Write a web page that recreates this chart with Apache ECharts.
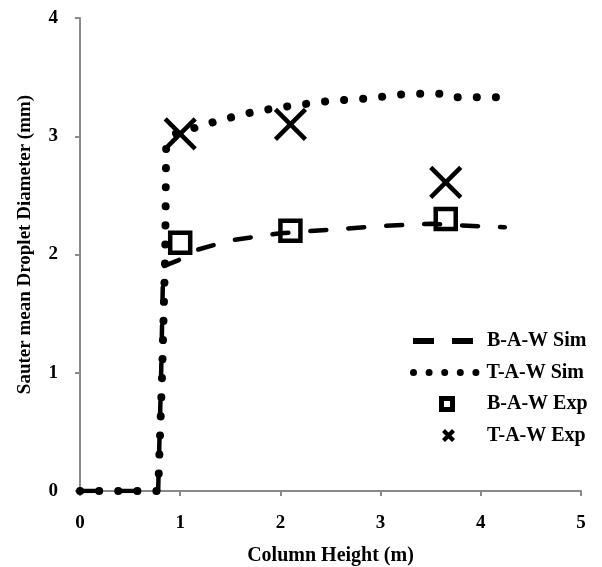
<!DOCTYPE html>
<html>
<head>
<meta charset="utf-8">
<script src="https://cdn.jsdelivr.net/npm/echarts@6/dist/echarts.min.js"></script>
<style>html,body{margin:0;padding:0;background:#fff}#c{width:602px;height:567px}</style>
</head>
<body>
<div id="c"></div>
<script>
// Data
const seriesNames = ['B-A-W Sim', 'T-A-W Sim', 'B-A-W Exp', 'T-A-W Exp'];
const xTicks = [0, 1, 2, 3, 4, 5];
const yTicks = [0, 1, 2, 3, 4];
const bawSim = [[0,0],[0.78,0],[0.81,1.0],[0.83,1.9],[0.98,1.95],[1.13,2.03],[1.5,2.12],[2.0,2.18],[2.5,2.21],[3.0,2.24],[3.5,2.26],[3.7,2.25],[4.24,2.23]];
const tawSim = [[0,0],[0.78,0],[0.82,1.0],[0.85,2.0],[0.86,2.92],[0.95,3.02],[1.18,3.08],[1.37,3.13],[1.56,3.17],[1.75,3.21],[2.13,3.26],[2.5,3.3],[2.88,3.32],[3.27,3.36],[3.66,3.36],[3.75,3.33],[4.23,3.33]];
const bawExp = [[1.0,2.1],[2.1,2.2],[3.65,2.3]];
const tawExp = [[1.0,3.02],[2.1,3.1],[3.65,2.61]];

const font = 'Liberation Serif';
const axisGray = '#8a8a8a';
const legendText = {fontFamily: font, fontWeight: 'bold', fontSize: 20, lineHeight: 20, color: '#000'};
const legendIcons = [
  'path://M0,0H21V6H0Z M39,0H60V6H39Z',
  'path://M0,3.5a3.5,3.5 0 1,0 7,0a3.5,3.5 0 1,0 -7,0Z M15.6,3.5a3.5,3.5 0 1,0 7,0a3.5,3.5 0 1,0 -7,0Z M31.2,3.5a3.5,3.5 0 1,0 7,0a3.5,3.5 0 1,0 -7,0Z M46.8,3.5a3.5,3.5 0 1,0 7,0a3.5,3.5 0 1,0 -7,0Z M62.4,3.5a3.5,3.5 0 1,0 7,0a3.5,3.5 0 1,0 -7,0Z',
  'path://M0,0H16V16H0Z M5,5V11H11V5Z',
  'path://M0,3L3,0L13,10L10,13Z M10,0L13,3L3,13L0,10Z'
];
const legendBoxes = [
  {left: 413, top: 331, w: 60, h: 6, pad: 9},
  {left: 410, top: 362.5, w: 69.4, h: 7, pad: 2},
  {left: 439, top: 394, w: 16, h: 16, pad: 27},
  {left: 442, top: 425.5, w: 13, h: 13, pad: 27}
];
const legends = seriesNames.map((n, i) => ({
  orient: 'vertical', left: legendBoxes[i].left, top: legendBoxes[i].top, padding: 0,
  itemWidth: legendBoxes[i].w, itemHeight: legendBoxes[i].h, selectedMode: false,
  data: [{name: n, icon: legendIcons[i], itemStyle: {color: '#000', borderWidth: 0, opacity: 1}}],
  itemStyle: {color: '#000', borderWidth: 0, opacity: 1},
  textStyle: Object.assign({padding: [0, 0, 0, legendBoxes[i].pad]}, legendText)
}));

const chart = echarts.init(document.getElementById('c'), null, {renderer: 'canvas'});
chart.setOption({
  animation: false,
  backgroundColor: '#fff',
  grid: {left: 80, right: 21, top: 18, bottom: 76, containLabel: false, outerBoundsMode: 'none'},
  xAxis: {
    type: 'value', min: xTicks[0], max: xTicks[xTicks.length-1], interval: 1,
    name: 'Column Height (m)', nameLocation: 'middle', nameGap: 55,
    nameTextStyle: {fontFamily: font, fontWeight: 'bold', fontSize: 20, color: '#000'},
    axisLine: {lineStyle: {color: axisGray, width: 2}},
    axisTick: {show: true, inside: false, length: 5, lineStyle: {color: axisGray, width: 2}},
    axisLabel: {margin: 23, fontFamily: font, fontWeight: 'bold', fontSize: 19, color: '#000'},
    splitLine: {show: false}
  },
  yAxis: {
    type: 'value', min: yTicks[0], max: yTicks[yTicks.length-1], interval: 1,
    name: 'Sauter mean Droplet Diameter (mm)', nameLocation: 'middle', nameGap: 45,
    nameTextStyle: {fontFamily: font, fontWeight: 'bold', fontSize: 19, color: '#000', padding: [0, 0, 0, 20]},
    axisLine: {show: true, lineStyle: {color: axisGray, width: 2}},
    axisTick: {show: true, inside: false, length: 5, lineStyle: {color: axisGray, width: 2}},
    axisLabel: {margin: 22, fontFamily: font, fontWeight: 'bold', fontSize: 19, color: '#000'},
    splitLine: {show: false}
  },
  legend: legends,
  series: [
    {name: seriesNames[0], type: 'line', data: bawSim, symbol: 'none', smooth: false,
     lineStyle: {color: '#000', width: 4.5, type: [16, 22], cap: 'round'}, z: 2},
    {name: seriesNames[1], type: 'line', data: tawSim, symbol: 'none', smooth: false,
     lineStyle: {color: '#000', width: 8, type: [0.1, 19], cap: 'round'}, z: 3},
    {name: seriesNames[2], type: 'scatter', data: bawExp, symbol: 'rect', symbolSize: 20, symbolKeepAspect: true,
     itemStyle: {color: 'rgba(0,0,0,0)', borderColor: '#000', borderWidth: 4.5, opacity: 1}, z: 4},
    {name: seriesNames[3], type: 'scatter', data: tawExp, symbol: 'path://M0,0L10,10M10,0L0,10', symbolSize: 30, symbolKeepAspect: true,
     itemStyle: {color: 'rgba(0,0,0,0)', borderColor: '#000', borderWidth: 4.5, opacity: 1}, z: 5}
  ]
});
</script>
</body>
</html>
